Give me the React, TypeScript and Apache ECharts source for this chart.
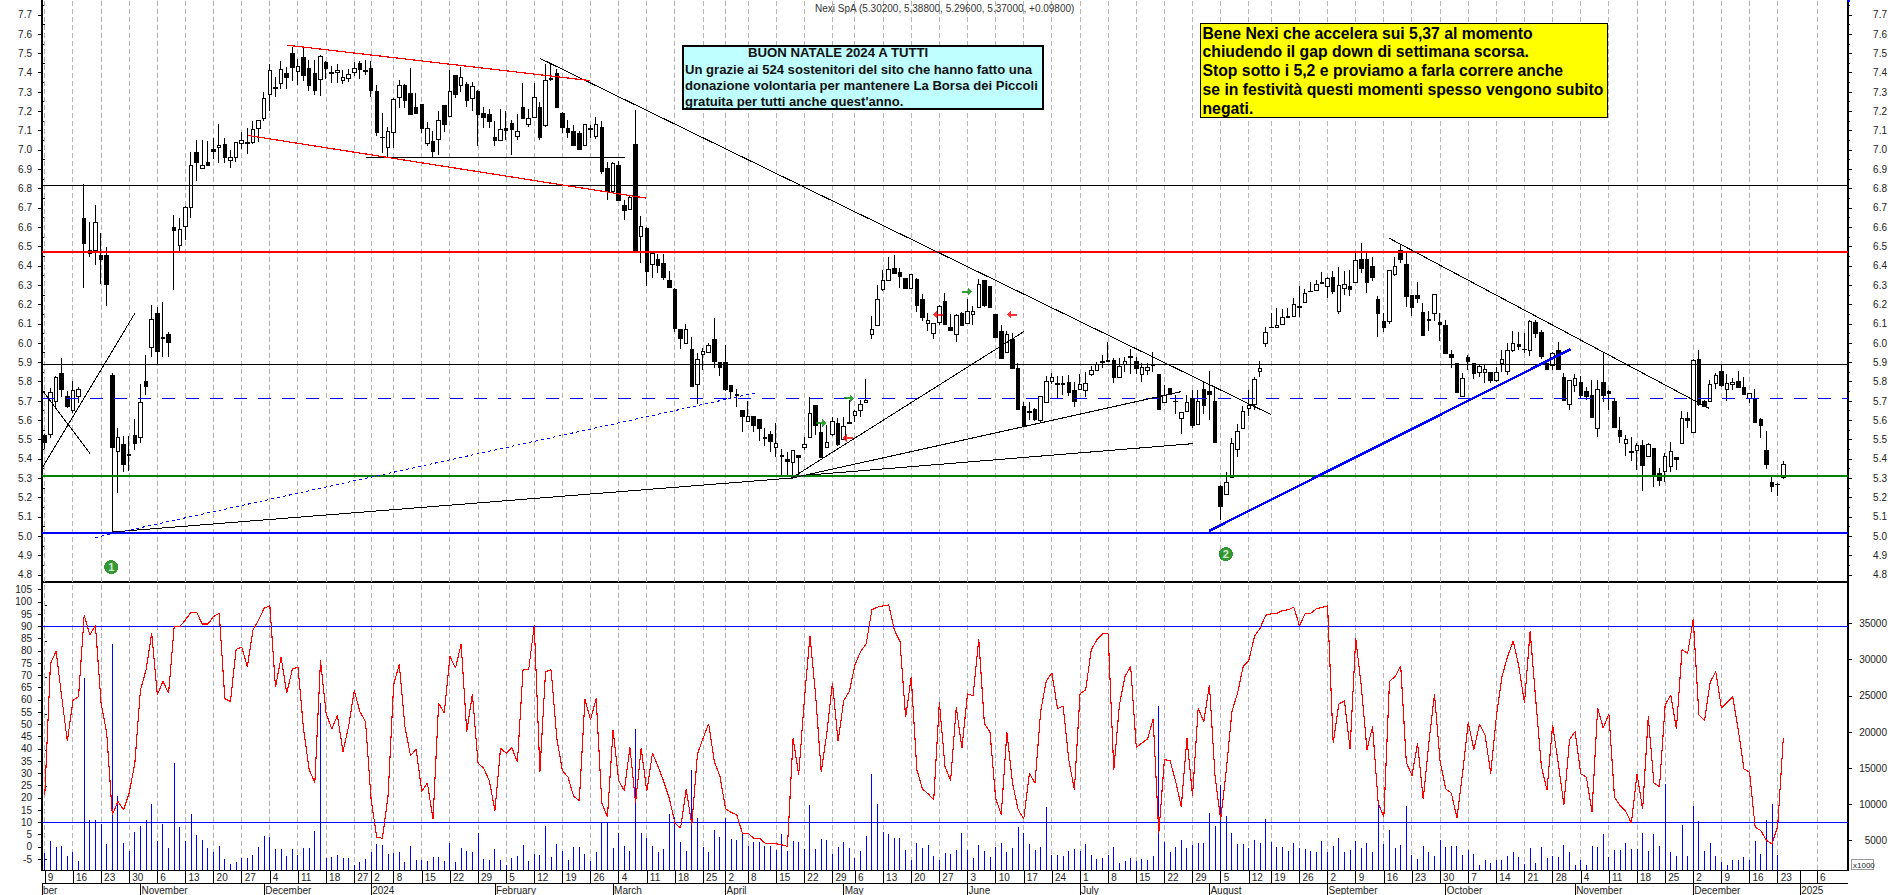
import React, { useEffect, useRef } from "react";
import * as echarts from "echarts";

// [open, close, low, high]
const candles: number[][] = [
[5.519,5.485,5.454,5.53],[5.527,5.745,5.507,5.766],[5.697,5.823,5.662,5.83],[5.845,5.757,5.723,5.921],[5.723,5.674,5.666,5.752],
[5.65,5.752,5.637,5.804],[5.723,5.761,5.689,5.775],[6.643,6.515,6.285,6.822],[6.48,6.465,6.448,6.627],[6.479,6.626,6.405,6.715],
[6.451,6.432,6.306,6.57],[6.451,6.301,6.192,6.498],[5.83,5.459,5.02,5.847],[5.44,5.512,5.226,5.56],[5.476,5.371,5.334,5.519],
[5.421,5.418,5.339,5.519],[5.519,5.478,5.447,5.607],[5.51,5.693,5.485,5.788],[5.799,5.775,5.731,5.938],[5.976,6.123,5.93,6.197],
[6.151,5.956,5.89,6.187],[6.03,6.025,5.93,6.211],[6.042,6.002,5.93,6.056],[6.596,6.582,6.275,6.663],[6.505,6.589,6.474,6.646],
[6.603,6.703,6.534,6.71],[6.703,6.921,6.65,6.99],[6.988,6.935,6.84,7.05],[6.903,6.921,6.9,7.052],[6.936,6.922,6.921,7.047],
[7.0,6.993,6.954,7.06],[7.014,7.024,6.934,7.135],[7.03,6.96,6.934,7.06],[6.945,6.962,6.909,7.0],[6.962,7.04,6.94,7.04],
[7.033,7.05,7.005,7.092],[7.04,7.033,6.98,7.112],[7.038,7.107,7.03,7.152],[7.11,7.154,7.04,7.154],[7.162,7.268,7.152,7.302],
[7.288,7.413,7.204,7.445],[7.322,7.318,7.276,7.376],[7.342,7.418,7.316,7.461],[7.394,7.375,7.316,7.43],[7.5,7.427,7.357,7.535],
[7.408,7.433,7.337,7.47],[7.48,7.385,7.357,7.528],[7.423,7.333,7.306,7.466],[7.397,7.306,7.285,7.466],[7.366,7.485,7.28,7.492],
[7.451,7.421,7.37,7.46],[7.4,7.397,7.349,7.435],[7.4,7.414,7.349,7.445],[7.359,7.376,7.342,7.414],[7.369,7.392,7.354,7.418],
[7.4,7.423,7.383,7.457],[7.45,7.416,7.368,7.46],[7.412,7.404,7.39,7.466],[7.424,7.31,7.273,7.462],[7.305,7.093,7.072,7.336],
[7.065,7.062,6.983,7.193],[7.012,7.098,6.957,7.117],[7.09,7.262,7.008,7.27],[7.273,7.335,7.216,7.362],[7.336,7.254,7.216,7.342],
[7.29,7.183,7.18,7.425],[7.222,7.191,7.19,7.293],[7.233,7.109,7.086,7.235],[7.033,7.112,7.02,7.143],[7.046,6.99,6.962,7.1],
[7.053,7.153,6.974,7.2],[7.228,7.134,7.095,7.233],[7.172,7.304,7.17,7.414],[7.387,7.285,7.271,7.39],[7.336,7.376,7.3,7.428],
[7.34,7.255,7.224,7.354],[7.266,7.328,7.2,7.35],[7.304,7.183,7.02,7.31],[7.191,7.167,7.115,7.22],[7.185,7.147,7.112,7.21],
[7.062,7.048,7.02,7.15],[7.05,7.107,7.048,7.212],[7.109,7.102,7.05,7.2],[7.138,7.105,6.974,7.155],[7.069,7.096,7.05,7.186],
[7.221,7.162,7.16,7.345],[7.133,7.164,7.12,7.21],[7.169,7.273,7.165,7.345],[7.221,7.062,7.052,7.25],[7.126,7.359,7.12,7.445],
[7.371,7.364,7.358,7.449],[7.397,7.219,7.218,7.417],[7.19,7.115,7.09,7.195],[7.112,7.09,7.064,7.155],[7.098,7.022,7.02,7.13],
[7.083,7.005,7.0,7.098],[7.022,7.133,7.02,7.135],[7.11,7.107,7.06,7.13],[7.072,7.133,7.055,7.17],[7.117,6.888,6.875,7.15],
[6.905,6.784,6.741,6.936],[6.784,6.931,6.78,6.937],[6.917,6.736,6.735,6.943],[6.71,6.684,6.637,6.741],[6.691,6.756,6.687,6.767],
[7.026,6.47,6.47,7.207],[6.551,6.603,6.413,6.658],[6.591,6.37,6.297,6.6],[6.408,6.465,6.339,6.47],[6.435,6.401,6.365,6.461],
[6.41,6.342,6.327,6.461],[6.322,6.287,6.285,6.373],[6.28,6.078,6.057,6.284],[6.068,6.026,5.97,6.07],[5.999,6.07,5.995,6.099],
[5.969,5.774,5.773,6.033],[5.785,5.916,5.685,5.947],[5.94,5.956,5.86,5.976],[5.952,5.985,5.95,5.999],[6.019,5.902,5.873,6.132],
[5.9,5.873,5.831,5.904],[5.9,5.761,5.754,5.99],[5.778,5.75,5.714,5.785],[5.736,5.729,5.671,5.76],[5.653,5.619,5.541,5.655],
[5.593,5.619,5.59,5.7],[5.62,5.571,5.541,5.622],[5.602,5.56,5.495,5.605],[5.512,5.505,5.467,5.558],[5.527,5.49,5.438,5.545],
[5.46,5.481,5.408,5.584],[5.419,5.414,5.312,5.451],[5.395,5.386,5.312,5.438],[5.381,5.445,5.295,5.447],[5.419,5.407,5.312,5.42],
[5.457,5.476,5.446,5.515],[5.51,5.636,5.508,5.722],[5.678,5.571,5.524,5.68],[5.538,5.407,5.403,5.585],[5.46,5.484,5.455,5.576],
[5.524,5.595,5.519,5.619],[5.585,5.477,5.467,5.61],[5.502,5.567,5.5,5.615],[5.588,5.583,5.58,5.705],[5.626,5.647,5.593,5.654],
[5.65,5.683,5.619,5.705],[5.691,5.703,5.688,5.814],[6.044,6.069,6.023,6.14],[6.09,6.227,6.088,6.301],[6.28,6.325,6.271,6.378],
[6.323,6.382,6.32,6.444],[6.384,6.36,6.358,6.456],[6.368,6.347,6.283,6.387],[6.335,6.282,6.28,6.337],[6.282,6.353,6.28,6.358],
[6.33,6.195,6.163,6.335],[6.227,6.132,6.114,6.254],[6.101,6.118,6.064,6.154],[6.049,6.102,6.023,6.105],[6.104,6.19,6.094,6.195],
[6.216,6.097,6.095,6.261],[6.082,6.064,6.06,6.151],[6.044,6.144,6.007,6.148],[6.151,6.089,6.087,6.163],[6.102,6.165,6.099,6.23],
[6.147,6.165,6.094,6.19],[6.184,6.304,6.18,6.332],[6.322,6.192,6.189,6.327],[6.291,6.185,6.184,6.293],[6.146,6.028,6.026,6.148],
[6.058,5.919,5.917,6.094],[5.95,6.045,5.947,6.061],[6.016,5.868,5.866,6.05],[5.87,5.657,5.654,5.895],[5.674,5.567,5.564,5.693],
[5.647,5.642,5.602,5.695],[5.654,5.602,5.597,5.662],[5.6,5.724,5.59,5.726],[5.693,5.802,5.69,5.83],[5.8,5.823,5.788,5.843],
[5.792,5.787,5.718,5.83],[5.792,5.787,5.733,5.831],[5.797,5.743,5.728,5.835],[5.755,5.697,5.671,5.8],[5.759,5.787,5.757,5.838],
[5.754,5.792,5.723,5.849],[5.837,5.857,5.831,5.881],[5.857,5.887,5.854,5.904],[5.904,5.899,5.87,5.938],[5.911,5.902,5.9,6.004],
[5.912,5.821,5.795,5.925],[5.821,5.88,5.82,5.921],[5.89,5.906,5.852,5.93],[5.928,5.925,5.838,5.97],[5.906,5.868,5.838,5.93],
[5.837,5.876,5.8,5.895],[5.859,5.875,5.835,5.895],[5.888,5.883,5.85,5.956],[5.838,5.655,5.653,5.84],[5.693,5.731,5.69,5.783],
[5.766,5.735,5.733,5.768],[5.7,5.695,5.631,5.731],[5.611,5.64,5.531,5.642],[5.647,5.692,5.643,5.731],[5.714,5.572,5.562,5.757],
[5.578,5.695,5.574,5.757],[5.757,5.676,5.633,5.8],[5.75,5.733,5.602,5.856],[5.7,5.484,5.483,5.774],[5.259,5.152,5.083,5.264],
[5.215,5.278,5.213,5.33],[5.303,5.48,5.3,5.506],[5.448,5.543,5.411,5.581],[5.556,5.646,5.555,5.674],[5.66,5.677,5.624,5.757],
[5.682,5.812,5.656,5.826],[5.852,5.869,5.826,5.907],[5.998,6.055,5.979,6.081],[6.083,6.079,6.078,6.157],[6.079,6.091,6.078,6.18],
[6.095,6.133,6.093,6.174],[6.138,6.133,6.13,6.18],[6.136,6.2,6.133,6.231],[6.19,6.183,6.136,6.295],[6.209,6.257,6.205,6.28],
[6.269,6.266,6.265,6.316],[6.271,6.304,6.269,6.326],[6.316,6.309,6.308,6.366],[6.293,6.335,6.235,6.343],[6.342,6.266,6.254,6.373],
[6.164,6.299,6.15,6.395],[6.281,6.304,6.25,6.373],[6.295,6.278,6.245,6.381],[6.314,6.428,6.31,6.464],[6.433,6.385,6.361,6.518],
[6.433,6.312,6.261,6.47],[6.397,6.337,6.323,6.444],[6.228,6.152,6.029,6.242],[6.112,6.079,6.059,6.157],[6.11,6.375,6.097,6.377],
[6.354,6.395,6.345,6.444],[6.478,6.432,6.413,6.507],[6.407,6.24,6.188,6.473],[6.247,6.183,6.142,6.25],[6.247,6.23,6.205,6.316],
[6.159,6.038,6.036,6.21],[6.123,6.117,6.064,6.168],[6.152,6.25,6.114,6.252],[6.109,6.095,6.012,6.154],[6.091,5.945,5.943,6.119],
[5.941,5.924,5.872,5.964],[5.895,5.743,5.74,5.898],[5.722,5.817,5.719,5.843],[5.926,5.902,5.86,5.936],[5.895,5.841,5.812,5.897],
[5.846,5.881,5.826,5.886],[5.846,5.864,5.795,5.886],[5.848,5.808,5.795,5.852],[5.805,5.848,5.8,5.877],[5.893,5.915,5.852,5.964],
[5.852,5.96,5.833,5.998],[5.96,5.997,5.955,6.062],[5.993,5.981,5.964,6.059],[5.969,5.966,5.947,6.05],[5.961,6.112,5.935,6.119],
[6.109,6.05,6.024,6.119],[6.057,5.93,5.916,6.068],[5.895,5.862,5.86,5.904],[5.885,5.945,5.86,5.955],[5.961,5.862,5.86,6.004],
[5.824,5.702,5.7,5.843],[5.681,5.804,5.653,5.809],[5.779,5.817,5.748,5.84],[5.797,5.731,5.714,5.83],[5.75,5.722,5.705,5.771],
[5.726,5.617,5.61,5.809],[5.557,5.76,5.515,5.809],[5.798,5.726,5.697,5.952],[5.747,5.741,5.653,5.757],[5.695,5.562,5.56,5.714],
[5.548,5.515,5.481,5.617],[5.481,5.5,5.417,5.524],[5.441,5.434,5.391,5.515],[5.445,5.47,5.343,5.481],[5.467,5.365,5.236,5.498],
[5.412,5.477,5.408,5.484],[5.455,5.308,5.256,5.457],[5.325,5.287,5.262,5.351],[5.334,5.413,5.282,5.429],[5.36,5.439,5.334,5.486],
[5.408,5.398,5.343,5.41],[5.481,5.61,5.477,5.648],[5.607,5.6,5.558,5.645],[5.538,5.911,5.535,5.915],[5.916,5.684,5.674,5.964],
[5.696,5.674,5.672,5.705],[5.696,5.786,5.693,5.809],[5.791,5.833,5.76,5.843],[5.855,5.778,5.771,5.886],[5.759,5.791,5.702,5.84],
[5.785,5.798,5.757,5.817],[5.803,5.772,5.766,5.855],[5.771,5.736,5.735,5.822],[5.714,5.738,5.688,5.74],[5.712,5.588,5.586,5.762],
[5.602,5.572,5.51,5.61],[5.446,5.37,5.348,5.545],[5.279,5.256,5.23,5.308],[5.27,5.267,5.21,5.277],[5.302,5.37,5.296,5.388],
];

const stochastic: number[] = [
21.3,74.8,79.9,61.4,43.1,59.8,61.4,94.6,86.6,90.4,58.7,46.5,13.1,18.6,15.2,22,34.2,64.1,72.3,87.3,
62.1,67.6,62.8,90,90,92.7,95.9,95.7,91,91,94.1,95.4,60.5,59.4,80.7,81.6,73.7,88.6,92.7,97.5,
98.4,65.2,77.5,62.8,72.6,73.4,47.8,31.5,26.3,76.1,54.6,48.1,53.7,39,49.2,63.9,55.3,51.1,19.3,3.9,
3.6,20.6,66.2,74.6,49.2,37.3,39.9,22.7,26.1,11.4,58.7,54.6,77.8,73,82.9,47.1,62.5,34.2,32.2,27.1,
14.9,40.3,38.3,40.6,34.6,72.3,72.3,90.7,30.8,71.6,72.3,44.4,31.2,28.5,20.6,19,60.3,51.9,60.7,17.9,
12.2,47.6,27.1,23,40.7,17.9,40.3,22.7,38.3,32.9,26.7,19.9,9.7,7.7,23.6,9,38,44.4,50.3,34.9,
28.8,15.6,14.1,13.1,5.6,5.6,3.6,3.6,1.6,1.6,1.3,0.9,0.2,44.4,29.5,60.1,86.2,62.1,30.5,46.5,
67.1,43.1,59.8,63.5,74.4,79.8,82.9,96.8,97.9,98.4,98.8,88.6,83.9,53,69.3,31.5,23.7,21.7,19.3,59.1,
32.9,27.1,57.1,40.3,62.5,61.7,84.8,50.3,46.9,19.9,13.1,46.9,26.1,15.2,11.4,30.1,26.1,55.3,67.8,71,
56.4,57.6,35.6,23.3,62.5,64.1,80.5,84.6,87,87,31.5,58,69.6,73.7,40.7,42.4,44.1,52.2,5.6,35.6,
35.3,26.7,16.5,44.4,20.9,56.7,51.2,66.2,28.8,11.1,31.5,55.3,62.8,73.7,76.1,85.9,89.3,94.6,95.2,95.4,
96.5,96.8,97.9,90.3,95.2,95.4,97.2,97.8,98.4,42.4,58.3,59.7,39.9,85.2,65.5,39.7,49.2,17.9,12.2,67.6,
69.6,73.9,34.5,29.2,42.4,19.5,42.4,62.4,34.9,23.7,22,11.8,30.1,50.8,39.7,50.1,45.7,29.9,53.3,69.6,
77.8,84.1,73.7,58.7,88.2,60.1,32.9,23.3,49.9,34.2,17.2,43.7,47.1,29.9,28.5,14.5,56.7,48.5,54.4,20.3,
16.8,14.5,9.7,29.9,15.4,53.3,26.1,24.7,58,62.1,48.1,80.5,79.1,93,53.9,51.6,67.3,71.6,56.7,59.1,
61.4,47.8,31.9,30.5,8.1,6.7,2.7,1.3,8.4,44.4,
];

const volume: (number | null)[] = [
3250,4950,4100,4250,2900,3450,2200,27450,7850,7850,7300,4550,32150,11150,4650,3600,6200,7000,7850,10050,
5000,7300,3950,15750,6900,5000,8750,5800,5100,3950,3400,4250,2450,1800,2050,2550,2600,3000,4150,5650,
5550,3800,3800,2900,3800,3000,3950,3950,6350,23950,2600,2750,3000,2600,2600,1650,2050,2450,3450,4550,
4400,3150,3300,3450,2050,4250,2350,2350,2200,2750,2750,2200,4700,2050,3950,3550,3450,6050,2450,2350,
3850,2350,1650,2600,2900,4400,2200,3150,3000,7000,2750,4550,3550,2350,4100,4100,3150,2200,3450,7500,
7500,3950,6050,4250,3550,20350,6050,5350,4250,3450,3850,8700,8300,4800,3550,14750,8150,4150,3450,6450,
5500,8150,5250,5100,5900,4250,4800,4800,4250,4250,3700,5900,3550,4950,4800,3850,9900,3850,5250,5100,
3150,4150,4800,4000,2600,3550,5650,14200,10050,6200,5900,5350,5350,3700,2350,4700,4000,4400,2900,2350,
3300,3150,3700,6050,3700,2600,4400,3550,2750,4150,4700,3450,4000,6900,6050,4550,3700,4150,9650,3000,
3000,2900,3550,3850,3550,4550,3000,2450,2600,3000,4150,1900,2200,2600,2200,2450,2350,2900,23600,4800,
3450,4150,5100,4000,4400,4700,4700,8800,7000,12700,8400,6050,4550,4550,4000,5100,4700,8000,4800,4150,
4150,3550,4700,4000,3850,3550,3450,4950,3450,4250,5350,3450,3700,4950,4000,4700,3450,10350,4550,6450,
4000,4400,9800,3000,2450,4250,3450,2900,5100,4150,4250,4250,3000,3700,3150,1650,2350,1900,2350,2350,
2900,3450,2750,1800,4000,1900,4150,2600,2900,2750,4400,3450,1650,2350,1650,4250,4150,5900,2750,3700,
3700,4700,3850,3850,6050,3550,5900,4250,12800,3450,2900,7150,2900,9800,7700,3550,4700,2900,2050,1650,
2350,2350,2750,2350,4950,3150,7850,10050,3000,null,
];

const weekPositions = [0,5,10,15,20,25,30,35,40,45,50,55,58,62,67,72,77,82,87,92,97,102,107,112,117,121,125,130,135,140,144,149,154,159,164,169,174,179,184,189,194,199,204,209,214,218,223,228,233,238,243,248,253,258,263,268,273,278,283,288,293,298,303,308,315];
const weekLabels = ["9","16","23","30","6","13","20","27","4","11","18","27","2","8","15","22","29","5","12","19","26","4","11","18","25","2","8","15","22","29","6","13","20","27","3","10","17","24","1","8","15","22","29","5","12","19","26","2","9","16","23","30","7","14","21","28","4","11","18","25","2","9","16","23","6"];
const monthPositions = [-0.5,17,39,58,80,101,121,142,164,184,207,228,249,272,293,312];
const monthLabels = ["ber","November","December","2024","February","March","April","May","June","July","August","September","October","November","December","2025"];

const priceTicks = [4.8,4.9,5.0,5.1,5.2,5.3,5.4,5.5,5.6,5.7,5.8,5.9,6.0,6.1,6.2,6.3,6.4,6.5,6.6,6.7,6.8,6.9,7.0,7.1,7.2,7.3,7.4,7.5,7.6,7.7];
const priceMinorTicks = [4.85,4.95,5.05,5.15,5.25,5.35,5.45,5.55,5.65,5.75,5.85,5.95,6.05,6.15,6.25,6.35,6.45,6.55,6.65,6.75,6.85,6.95,7.05,7.15,7.25,7.35,7.45,7.55,7.65,7.75];
const stochTicks = [-5,0,5,10,15,20,25,30,35,40,45,50,55,60,65,70,75,80,85,90,95,100,105];
const volumeTicks = [5000,10000,15000,20000,25000,30000,35000];
const volumeMinorTicks = [2500,7500,12500,17500,22500,27500,32500,37500];

const levelBlack = [6.816, 5.889];
const levelRed = 6.472;
const levelBlueDashed = 5.713;
const levelGreen = 5.31;
const levelBlue = 5.0165;
const stochLevels = [90, 10];

// trend lines: [bar, price] pairs
const blackLines: number[][][] = [
  [[-0.5,5.3515],[16.0,6.154]],
  [[-0.5,5.757],[8.03,5.429]],
  [[11.94,5.0216],[132.7,5.301]],
  [[57.05,6.962],[103.05,6.962]],
  [[87.96,7.475],[218.0,5.629]],
  [[132.66,5.3],[174.0,6.059]],
  [[132.7,5.3],[201.9,5.748]],
  [[135.9,5.317],[204.0,5.479]],
  [[238.96,6.543],[295.8,5.662]],
];
const redLines: number[][][] = [
  [[43.0,7.543],[96.96,7.359]],
  [[36.05,7.0755],[106.8,6.751]],
];
const blueDotted: number[][] = [[9.0,4.993],[126.8,5.745]];
const blueThick: number[][] = [[206.9,5.027],[271.2,5.968]];
const greenArrows: number[][] = [[138,5.585],[142.9,5.714],[163.9,6.266]];
const redArrows: number[][] = [[142.7,5.51],[158.7,6.147],[171.9,6.147]];
const markers: (number | string)[][] = [[11.8,4.84,"1"],[209.9,4.907,"2"]];

const titleText = "Nexi SpA (5.30200, 5.38800, 5.29600, 5.37000, +0.09800)";
const cyanHeading = "BUON NATALE 2024 A TUTTI";
const cyanLines = [
  "Un grazie ai 524 sostenitori del sito che hanno fatto una",
  "donazione volontaria per mantenere La Borsa dei Piccoli",
  "gratuita per tutti anche quest'anno.",
];
const yellowLines = [
  "Bene Nexi che accelera sui 5,37 al momento",
  "chiudendo il gap down di settimana scorsa.",
  "Stop sotto i 5,2 e proviamo a farla correre anche",
  "se in festività questi momenti spesso vengono subito",
  "negati.",
];

const BAR_SLOTS = 321;
const FONT = '"Liberation Sans", Arial, sans-serif';
const PRICE_MIN = 4.76269;
const PRICE_MAX = 7.77664;
const STOCH_MIN = -9.388;
const STOCH_MAX = 108.163;
const VOL_MIN = 959;
const VOL_MAX = 40700;
const ARROW = "path://M0 3L6 3L6 0L10 4L6 8L6 5L0 5Z";

const segments = (lines: number[][][]) =>
  lines.flatMap((l) => [...l, [null, null]]) as any[];

const hLine = (y: number, from = -0.5, to = BAR_SLOTS - 0.5) => [[from, y], [to, y]];

const overlay = (data: any[], color: string, width: number, extra: any = {}) => ({
  type: "line",
  xAxisIndex: 1,
  yAxisIndex: 0,
  data,
  showSymbol: false,
  symbol: "none",
  silent: true,
  z: 5,
  lineStyle: { color, width, ...extra },
});

const buildOption = () => {
  const categories = Array.from({ length: BAR_SLOTS }, (_, i) => String(i));
  const dashedV = (lo: number, hi: number) =>
    weekPositions.flatMap((x) => [[x, lo], [x, hi], [null, null]]);
  const gridDash = { color: "#b4b4b4", width: 1, type: [5, 3] as any };
  const axisText = { color: "#222", fontFamily: FONT, fontSize: 10 };

  return {
    animation: false,
    backgroundColor: "#fff",
    grid: [
      { left: 42, top: 0, width: 1807, height: 582, containLabel: false },
      { left: 42, top: 582, width: 1807, height: 288, containLabel: false },
    ],
    xAxis: [
      { type: "category", gridIndex: 0, data: categories, show: false },
      {
        type: "value", gridIndex: 0, min: -0.5, max: BAR_SLOTS - 0.5, position: "bottom",
        axisLine: { show: true, onZero: false, lineStyle: { color: "#000", width: 2 } },
        axisTick: { show: false }, axisLabel: { show: false }, splitLine: { show: false },
      },
      { type: "category", gridIndex: 1, data: categories, show: false },
      {
        type: "value", gridIndex: 1, min: -0.5, max: BAR_SLOTS - 0.5, position: "bottom",
        axisLine: { show: true, onZero: false, lineStyle: { color: "#000", width: 1 } },
        axisTick: { show: true, length: 13, customValues: [...weekPositions, 312], lineStyle: { color: "#000" } },
        axisLabel: {
          show: true, customValues: weekPositions, margin: 2, align: "left", padding: [0, 0, 0, 3],
          verticalAlign: "top", ...axisText,
          formatter: (v: number) => weekLabels[weekPositions.indexOf(v)] ?? "",
        },
        splitLine: { show: false },
      },
      {
        type: "value", gridIndex: 1, min: -0.5, max: BAR_SLOTS - 0.5, position: "bottom", offset: 13,
        axisLine: { show: true, onZero: false, lineStyle: { color: "#000", width: 1 } },
        axisTick: { show: true, length: 12, customValues: monthPositions, lineStyle: { color: "#000" } },
        axisLabel: {
          show: true, customValues: monthPositions, margin: 2, align: "left", padding: [0, 0, 0, 1],
          verticalAlign: "top", ...axisText,
          formatter: (v: number) => monthLabels[monthPositions.indexOf(v)] ?? "",
        },
        splitLine: { show: false },
      },
    ],
    yAxis: [
      {
        type: "value", gridIndex: 0, position: "left", min: PRICE_MIN, max: PRICE_MAX,
        axisLine: { show: true, onZero: false, lineStyle: { color: "#000", width: 1.5 } },
        axisTick: { show: true, length: 4, customValues: priceTicks, lineStyle: { color: "#000" } },
        axisLabel: { show: true, customValues: priceTicks, margin: 10, align: "right", ...axisText, formatter: (v: number) => v.toFixed(1) },
        splitLine: { show: false },
      },
      {
        type: "value", gridIndex: 0, position: "right", min: PRICE_MIN, max: PRICE_MAX,
        axisLine: { show: true, onZero: false, lineStyle: { color: "#000", width: 1.5 } },
        axisTick: { show: true, length: 4, customValues: priceTicks, lineStyle: { color: "#000" } },
        axisLabel: { show: true, customValues: priceTicks, margin: 39, align: "right", ...axisText, formatter: (v: number) => v.toFixed(1) },
        splitLine: { show: false },
      },
      {
        type: "value", gridIndex: 0, position: "left", min: PRICE_MIN, max: PRICE_MAX,
        axisLine: { show: false },
        axisTick: { show: true, length: 2, customValues: priceMinorTicks, lineStyle: { color: "#000" } },
        axisLabel: { show: false }, splitLine: { show: false },
      },
      {
        type: "value", gridIndex: 0, position: "right", min: PRICE_MIN, max: PRICE_MAX,
        axisLine: { show: false },
        axisTick: { show: true, length: 2, customValues: priceMinorTicks, lineStyle: { color: "#000" } },
        axisLabel: { show: false }, splitLine: { show: false },
      },
      {
        type: "value", gridIndex: 1, position: "left", min: STOCH_MIN, max: STOCH_MAX,
        axisLine: { show: true, onZero: false, lineStyle: { color: "#000", width: 1.5 } },
        axisTick: { show: true, length: 4, customValues: stochTicks, lineStyle: { color: "#000" } },
        axisLabel: { show: true, customValues: stochTicks, margin: 10, align: "right", ...axisText, formatter: (v: number) => String(v) },
        splitLine: { show: false },
      },
      {
        type: "value", gridIndex: 1, position: "right", min: VOL_MIN, max: VOL_MAX,
        axisLine: { show: true, onZero: false, lineStyle: { color: "#000", width: 1.5 } },
        axisTick: { show: true, length: 4, customValues: volumeTicks, lineStyle: { color: "#000" } },
        axisLabel: { show: true, customValues: volumeTicks, margin: 39, align: "right", ...axisText, formatter: (v: number) => String(v) },
        splitLine: { show: false },
      },
      {
        type: "value", gridIndex: 1, position: "right", min: VOL_MIN, max: VOL_MAX,
        axisLine: { show: false },
        axisTick: { show: true, length: 2, customValues: volumeMinorTicks, lineStyle: { color: "#000" } },
        axisLabel: { show: false }, splitLine: { show: false },
      },
    ],
    series: [
      { ...overlay(dashedV(PRICE_MIN, PRICE_MAX), gridDash.color, 1, { type: gridDash.type }), z: 1 },
      { ...overlay(dashedV(STOCH_MIN, STOCH_MAX), gridDash.color, 1, { type: gridDash.type }), xAxisIndex: 3, yAxisIndex: 4, z: 1 },
      {
        type: "candlestick",
        xAxisIndex: 0,
        yAxisIndex: 0,
        data: candles,
        barWidth: 4,
        z: 3,
        silent: true,
        progressive: 0,
        itemStyle: {
          color: "#ffffff", color0: "#000000",
          borderColor: "#000000", borderColor0: "#000000", borderColorDoji: "#000000",
          borderWidth: 1,
        },
      },
      overlay(segments(levelBlack.map((v) => hLine(v))), "#000000", 1),
      overlay(hLine(levelRed), "#ff0000", 2),
      overlay(hLine(levelBlueDashed), "#0000ff", 1.2, { type: [13, 11] }),
      overlay(hLine(levelGreen), "#008000", 2),
      overlay(hLine(levelBlue), "#0000ff", 2),
      overlay(segments(blackLines), "#000000", 1),
      overlay(segments(redLines), "#ff0000", 1.2),
      overlay(blueDotted, "#0000ff", 1, { type: [3, 3] }),
      overlay(blueThick, "#0000ff", 2.5),
      {
        type: "scatter", xAxisIndex: 1, yAxisIndex: 0, data: greenArrows, silent: true, z: 6,
        symbol: ARROW, symbolSize: [10, 8], itemStyle: { color: "#008a00" },
      },
      {
        type: "scatter", xAxisIndex: 1, yAxisIndex: 0, data: redArrows, silent: true, z: 6,
        symbol: ARROW, symbolSize: [10, 8], symbolRotate: 180, itemStyle: { color: "#ff0000" },
      },
      {
        type: "scatter", xAxisIndex: 1, yAxisIndex: 0, data: markers, silent: true, z: 6,
        symbol: "circle", symbolSize: 14, itemStyle: { color: "#008000" },
        label: {
          show: true, position: "inside", color: "#fff", fontFamily: FONT, fontWeight: "bold", fontSize: 11,
          formatter: (p: any) => p.value[2],
        },
      },
      {
        type: "bar", xAxisIndex: 2, yAxisIndex: 5, data: volume, barWidth: 1, silent: true, z: 2,
        itemStyle: { color: "#0000ff" },
      },
      {
        ...overlay(segments(stochLevels.map((v) => hLine(v))), "#0000ff", 1),
        xAxisIndex: 3, yAxisIndex: 4, z: 3,
      },
      {
        type: "line", xAxisIndex: 2, yAxisIndex: 4, data: stochastic, showSymbol: false, symbol: "none",
        silent: true, z: 4, lineStyle: { color: "#ff0000", width: 1.1 },
      },
    ],
    graphic: [
      { type: "text", x: 815, y: 8.5, z: 20, style: { text: titleText, font: `10px ${FONT}`, fill: "#333", verticalAlign: "middle" } },
      {
        type: "rect", z: 20,
        shape: { x: 683, y: 45.5, width: 360, height: 63 },
        style: { fill: "#bfffff", stroke: "#000", lineWidth: 2 },
      },
      { type: "text", x: 748, y: 52.5, z: 21, style: { text: cyanHeading, font: `bold 13.2px ${FONT}`, fill: "#111", verticalAlign: "middle" } },
      ...cyanLines.map((t, i) => ({
        type: "text", x: 685, y: [69.5, 85.5, 101.7][i], z: 21,
        style: { text: t, font: `bold 13.1px ${FONT}`, fill: "#111", verticalAlign: "middle" },
      })),
      {
        type: "rect", z: 20,
        shape: { x: 1200.5, y: 23.5, width: 407, height: 94 },
        style: { fill: "#ffff00", stroke: "#000", lineWidth: 1 },
      },
      ...yellowLines.map((t, i) => ({
        type: "text", x: 1202.5, y: [33, 51.5, 70.5, 89.5, 108][i], z: 21,
        style: { text: t, font: `bold 15.75px ${FONT}`, fill: "#000", verticalAlign: "middle" },
      })),
      {
        type: "rect", z: 20,
        shape: { x: 1851.5, y: 859.5, width: 22, height: 10 },
        style: { fill: "#fff", stroke: "#999", lineWidth: 1 },
      },
      { type: "text", x: 1853, y: 865, z: 21, style: { text: "x1000", font: `8px ${FONT}`, fill: "#222", verticalAlign: "middle" } },
      {
        type: "rect", z: 20,
        shape: { x: 1847, y: 0, width: 3, height: 2 },
        style: { fill: "#0000ff" },
      },
    ],
  };
};

export default function App() {
  const ref = useRef<HTMLDivElement>(null);
  useEffect(() => {
    document.body.style.margin = "0";
    document.documentElement.style.overflow = "hidden";
    const sheet = document.createElement("style");
    sheet.textContent = "svg path, svg rect, svg line { shape-rendering: crispEdges !important; }";
    document.head.appendChild(sheet);
    const chart = echarts.init(ref.current!, undefined, { renderer: "svg" });
    chart.setOption(buildOption() as any);
    return () => {
      chart.dispose();
      sheet.remove();
    };
  }, []);
  return <div ref={ref} style={{ width: 1890, height: 895, display: "block" }} />;
}
